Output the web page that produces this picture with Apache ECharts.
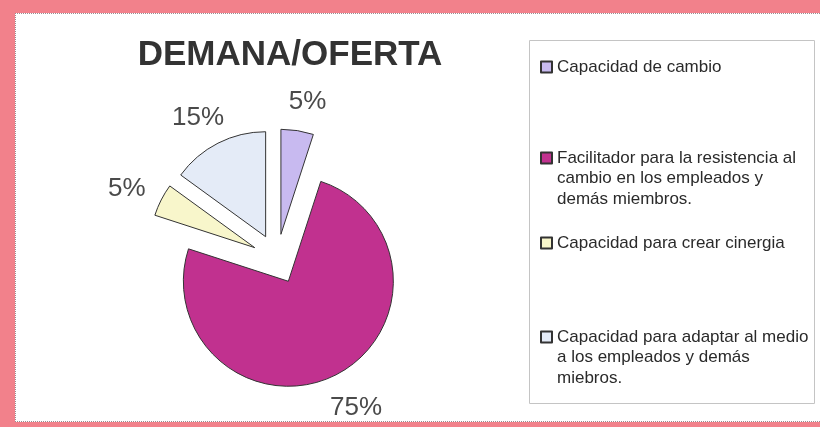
<!DOCTYPE html>
<html>
<head>
<meta charset="utf-8">
<script src="https://cdn.jsdelivr.net/npm/echarts@6/dist/echarts.min.js"></script>
<style>
  html, body { margin: 0; padding: 0; }
  .frame {
    position: absolute; left: 0; top: 0;
    width: 820px; height: 427px;
    box-sizing: border-box;
    background: #fff;
    border-left: 15px solid #f2818b;
    border-top: 13px solid #f2818b;
    border-bottom: 5px solid #f2818b;
  }
  .inner {
    position: absolute; left: 15px; top: 13px;
    width: 805px; height: 409px;
    box-sizing: border-box;
    border-left: 1px dotted #9a8c90;
    border-top: 1px dotted #9a8c90;
    border-bottom: 1px dotted #9a8c90;
  }
  #chart { position: absolute; left: 0; top: 0; width: 820px; height: 427px; }
</style>
</head>
<body>
<div class="frame"></div>
<div class="inner"></div>
<div id="chart"></div>
<script>
// datos del grafico
const categories = [
  'Capacidad de cambio',
  'Facilitador para la resistencia al cambio en los empleados y demás miembros.',
  'Capacidad para crear cinergia',
  'Capacidad para adaptar al medio a los empleados y demás miebros.'
]
const values = [5, 75, 5, 15]
// texto de la leyenda con saltos de linea
const legendText = [
  'Capacidad de cambio',
  'Facilitador para la resistencia al\ncambio en los empleados y\ndemás miembros.',
  'Capacidad para crear cinergia',
  'Capacidad para adaptar al medio\na los empleados y demás\nmiebros.'
]

const colors = ['#c8baf0', '#c1318f', '#f8f6cb', '#e4ebf7']
const fontFam = '"Liberation Sans", Arial, sans-serif'

const chart = echarts.init(document.getElementById('chart'))

// una leyenda por elemento; el icono queda centrado en el texto,
// asi que se anaden lineas vacias arriba para alinearlo con la primera linea
const lineH = 20.5
const iconCenters = [67, 158, 243, 337]
const legends = categories.map((name, i) => {
  const nLines = legendText[i].split('\n').length
  const pad = '\n'.repeat(nLines - 1)
  const total = nLines + (nLines - 1)
  return {
    orient: 'vertical',
    left: 540,
    top: iconCenters[i] - total * lineH / 2,
    padding: 0,
    icon: 'rect',
    itemWidth: 11,
    itemHeight: 11,
    itemGap: 0,
    selectedMode: false,
    data: [name],
    formatter: () => pad + legendText[i],
    textStyle: {
      fontFamily: fontFam,
      fontSize: 17,
      lineHeight: lineH,
      color: '#2a2a2a'
    }
  }
})

const option = {
  animation: false,
  title: {
    text: 'DEMANA/OFERTA',
    left: 285,
    top: 33,
    textAlign: 'center',
    textStyle: {
      fontFamily: fontFam,
      fontSize: 35,
      fontWeight: 'bold',
      color: '#333'
    }
  },
  legend: legends,
  graphic: [
    {
      type: 'rect',
      shape: { x: 529.5, y: 40.5, width: 285, height: 363 },
      style: { fill: 'none', stroke: '#c4c4c4', lineWidth: 1 },
      silent: true
    }
  ],
  series: [
    {
      type: 'pie',
      center: [277, 259],
      radius: 105,
      startAngle: 90,
      clockwise: true,
      selectedMode: 'multiple',
      selectedOffset: 25,
      avoidLabelOverlap: false,
      itemStyle: {
        borderColor: '#333',
        borderWidth: 1
      },
      label: {
        show: true,
        position: 'outside',
        formatter: '{d}%',
        fontFamily: fontFam,
        fontSize: 26,
        color: '#4a4a4a'
      },
      labelLine: { show: false, length: 33, length2: 0 },
      // centrar la etiqueta sobre el extremo de la guia
      labelLayout: p => ({
        dx: p.align === 'left' ? -p.labelRect.width / 2 : (p.align === 'right' ? p.labelRect.width / 2 : 0),
        dy: 4
      }),
      emphasis: { disabled: true },
      data: categories.map((name, i) => ({
        name: name,
        value: values[i],
        selected: true,
        itemStyle: { color: colors[i] }
      }))
    }
  ]
}
chart.setOption(option)
</script>
</body>
</html>
